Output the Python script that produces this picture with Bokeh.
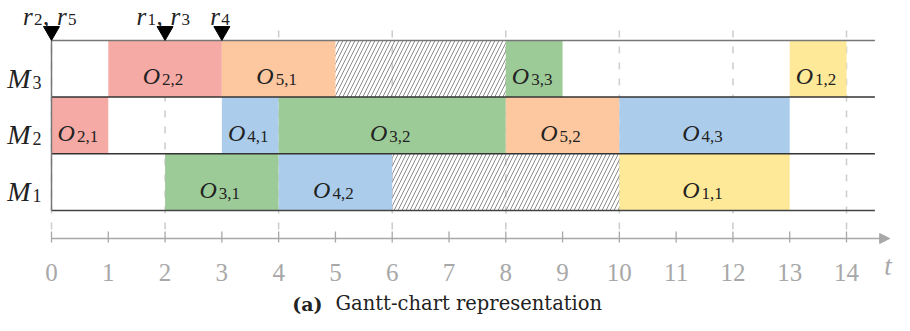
from bokeh.plotting import figure
from bokeh.models import Range1d, ColumnDataSource, Arrow, NormalHead
from bokeh.embed import file_html
from bokeh.resources import INLINE
from bokeh.core.properties import value

# ---------------- data ----------------
machine_ids = [1, 2, 3]

op_job     = [2, 5, 3, 1,   2, 4, 3, 5, 4,   3, 4, 1]
op_index   = [2, 1, 3, 2,   1, 1, 2, 2, 3,   1, 2, 1]
op_machine = [3, 3, 3, 3,   2, 2, 2, 2, 2,   1, 1, 1]
op_start   = [1, 3, 8, 13,  0, 3, 4, 8, 10,  2, 4, 10]
op_end     = [3, 5, 9, 14,  1, 4, 8, 10, 13, 4, 6, 13]

idle_machine = [3, 1]
idle_start = [5, 6]
idle_end = [8, 10]

release_times = [0, 2, 3]
release_jobs = [[2, 5], [1, 3], [4]]

time_ticks = list(range(0, 15))
grid_ticks = list(range(0, 15, 2))
horizon = 14.5
axis_end = 14.76

caption_tag = "(a)"
caption_text = "Gantt-chart representation"

# ---------------- styles ----------------
job_colors = {1: "#FEE998", 2: "#F6AAA5", 3: "#9DCB98", 4: "#ABCDEB", 5: "#FDC8A0"}
SERIF = value("Liberation Serif")
TXT = "#222222"
AX = "#a8a8a8"
PX = 56.7      # pixels per y unit (row height)
PXX = 56.786   # pixels per time unit

W, H = 894, 315
x0 = -51 / PXX
y1 = 210 / PX

p = figure(width=W, height=H,
           x_range=Range1d(x0, x0 + W / PXX), y_range=Range1d(y1 - H / PX, y1),
           output_backend="svg", toolbar_location=None,
           x_axis_location=None, y_axis_location=None,
           min_border=0, outline_line_color=None)
p.grid.visible = False
p.background_fill_color = "white"
p.border_fill_color = "white"

# dashed grid lines (behind bars)
p.segment(x0=grid_ticks, x1=grid_ticks,
          y0=[-19 / PX] * len(grid_ticks), y1=[187 / PX] * len(grid_ticks),
          line_color="#cccccc", line_width=1.5, line_dash="7 9")

# operation bars
src = ColumnDataSource(dict(
    left=op_start, right=op_end,
    bottom=[m - 1 for m in op_machine], top=op_machine,
    color=[job_colors[j] for j in op_job],
    cx=[(s + e) / 2 for s, e in zip(op_start, op_end)],
    cy=[m - 0.5 for m in op_machine],
    main=["O"] * len(op_job),
    sub=[f"{j},{k}" for j, k in zip(op_job, op_index)],
))
p.quad(left="left", right="right", bottom="bottom", top="top",
       fill_color="color", line_color=None, source=src)

# idle (hatched) periods
p.quad(left=idle_start, right=idle_end,
       bottom=[m - 1 for m in idle_machine], top=idle_machine,
       fill_alpha=0, line_color=None,
       hatch_pattern="/", hatch_color="#8c8c8c", hatch_scale=8, hatch_weight=1)

# row boundary lines
row_lines_y = [0, 1, 2, 3]
row_line_colors = ["#444444", "#333333", "#333333", "#777777"]
p.segment(x0=[0] * 4, x1=[horizon] * 4, y0=row_lines_y, y1=row_lines_y,
          line_color=row_line_colors, line_width=1.5)
p.segment(x0=[0], x1=[0], y0=[0], y1=[3], line_color="#777777", line_width=1.5)

# operation labels
p.text(x="cx", y="cy", text="main", source=src, text_font=SERIF,
       text_font_style="italic", text_font_size="24px", text_align="right",
       text_baseline="alphabetic", x_offset=-5, y_offset=7.5, text_color=TXT)
p.text(x="cx", y="cy", text="sub", source=src, text_font=SERIF,
       text_font_size="17px", text_align="left",
       text_baseline="alphabetic", x_offset=-3, y_offset=11, text_color=TXT)

# machine labels
p.text(x=[0] * 3, y=[m - 0.5 for m in machine_ids], text=["M"] * 3,
       text_font=SERIF, text_font_style="italic", text_font_size="28px",
       text_align="right", text_baseline="alphabetic",
       x_offset=-21, y_offset=9.5, text_color=TXT)
p.text(x=[0] * 3, y=[m - 0.5 for m in machine_ids], text=[str(m) for m in machine_ids],
       text_font=SERIF, text_font_size="18px",
       text_align="left", text_baseline="alphabetic",
       x_offset=-19, y_offset=13.5, text_color=TXT)

# release markers
tri_size = 16
p.scatter(x=release_times, y=[3 + (tri_size / 2 * 1.732 * 2 / 3) / PX] * len(release_times),
          marker="inverted_triangle", size=tri_size, fill_color="black", line_color="black")

unit, sep = 21, 13
rx, rxo, sx, sxo, stx, cxs, cxo = [], [], [], [], [], [], []
for t, jobs in zip(release_times, release_jobs):
    n = len(jobs)
    total = n * unit + (n - 1) * sep
    start = -total / 2 - 1
    for i, j in enumerate(jobs):
        o = start + i * (unit + sep)
        rx.append(t); rxo.append(o)
        sx.append(t); sxo.append(o + 11); stx.append(str(j))
        if i < n - 1:
            cxs.append(t); cxo.append(o + 20)
r_y = (210 - 16) / PX
p.text(x=rx, y=[r_y] * len(rx), text=["r"] * len(rx), x_offset=rxo,
       text_font=SERIF, text_font_style="italic", text_font_size="25px",
       text_align="left", text_baseline="alphabetic", text_color=TXT)
p.text(x=sx, y=[r_y] * len(sx), text=stx, x_offset=sxo, y_offset=3,
       text_font=SERIF, text_font_size="17px",
       text_align="left", text_baseline="alphabetic", text_color=TXT)
p.text(x=cxs, y=[r_y] * len(cxs), text=[","] * len(cxs), x_offset=cxo,
       text_font=SERIF, text_font_size="25px",
       text_align="left", text_baseline="alphabetic", text_color=TXT)

# time axis
y_axis = -28 / PX
p.add_layout(Arrow(end=NormalHead(size=10, fill_color=AX, line_color=AX, line_width=1),
                   x_start=0, y_start=y_axis, x_end=axis_end, y_end=y_axis,
                   line_color=AX, line_width=1.5))
p.segment(x0=time_ticks, x1=time_ticks,
          y0=[y_axis - 4 / PX] * len(time_ticks), y1=[y_axis + 7 / PX] * len(time_ticks),
          line_color=AX, line_width=1.3)
p.text(x=time_ticks, y=[-62 / PX] * len(time_ticks), text=[str(t) for t in time_ticks],
       text_font=SERIF, text_font_size="25px", text_align="center",
       text_baseline="alphabetic", text_color=AX)
p.text(x=[axis_end - 0.03], y=[-55 / PX], text=["t"], text_font=SERIF,
       text_font_style="italic", text_font_size="27px", text_align="center",
       text_baseline="alphabetic", text_color=AX)

# caption
cap_x = 404 / PXX
cap_y = -93 / PX
p.text(x=[cap_x], y=[cap_y], text=[caption_tag], x_offset=-133,
       text_font=value("DejaVu Serif"), text_font_style="bold", text_font_size="19px",
       text_align="right", text_baseline="alphabetic", text_color=TXT)
p.text(x=[cap_x], y=[cap_y], text=[caption_text], x_offset=-120,
       text_font=value("DejaVu Serif"), text_font_size="19.5px",
       text_align="left", text_baseline="alphabetic", text_color=TXT)

open("out.html", "w").write(file_html(p, INLINE))
